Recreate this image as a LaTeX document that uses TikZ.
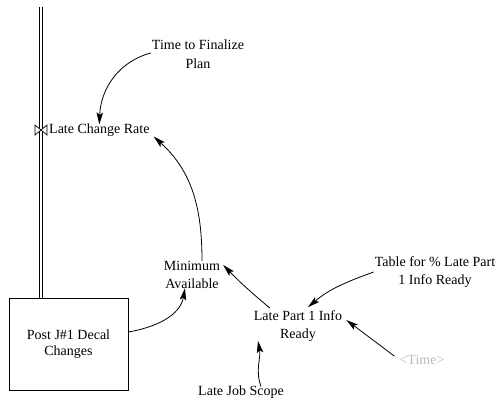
\documentclass[tikz,border=0pt]{standalone}
\usepackage{fontspec}
\setmainfont{Liberation Serif}
\usetikzlibrary{arrows.meta}
\begin{document}
\begin{tikzpicture}[x=1pt,y=-1pt,
  lbl/.style={font=\fontsize{14}{18.5}\selectfont, align=center, inner sep=1pt},
  link/.style={draw, line width=0.8pt, -{Stealth[length=12pt,width=6.5pt,inset=2.5pt]}},
  pipe/.style={draw, double, double distance=2.5pt, line width=0.7pt},
  stockbox/.style={draw, line width=0.8pt, minimum width=119pt, minimum height=92pt, font=\fontsize{14}{16.5}\selectfont, align=center}
]
\useasboundingbox (0,0) rectangle (497,400);
% stock
\node[stockbox] (box) at (68.5,344) {Post J\#1 Decal\\Changes};
\coordinate (ptop) at (41,7);
\coordinate (valve) at (41,130);
\draw[pipe] (ptop) -- (box.north -| ptop);
\draw[line width=0.7pt, fill=white] ([shift={(-6,-5)}]valve) -- ([shift={(6,5)}]valve) -- ([shift={(6,-5)}]valve) -- ([shift={(-6,5)}]valve) -- cycle;
% labels
\node[lbl, anchor=west] (lcr) at (48,130) {Late Change Rate};
\node[lbl] (ttf) at (198,54) {Time to Finalize\\Plan};
\node[lbl] (ma) at (192,275) {Minimum\\Available};
\node[lbl] (lp) at (298,326) {Late Part 1 Info\\Ready};
\node[lbl] (tab) at (435,272) {Table for \% Late Part\\1 Info Ready};
\node[lbl, text=gray!55] (time) at (422,360) {<Time>};
\node[lbl] (ljs) at (241,392) {Late Job Scope};
% links
\draw[link] ([yshift=1]ttf.west) to[out=195,in=88] ([yshift=-2]lcr.north);
\draw[link] ([xshift=10,yshift=-1]ma.north) to[out=90,in=-42] ([xshift=3,yshift=1]lcr.south east);
\draw[link] ([yshift=12]box.east) to[out=10,in=-100] ([xshift=-7,yshift=2]ma.south);
\draw[link] ([xshift=-28,yshift=1]lp.north) to[bend left=3] ([xshift=2,yshift=10]ma.east);
\draw[link] (tab.west) to[out=200,in=40] ([xshift=10,yshift=2]lp.north);
\draw[link] ([xshift=-4,yshift=-2]time.north west) -- ([xshift=3,yshift=6]lp.east);
\draw[link] ([xshift=20,yshift=-2]ljs.north) to[out=110,in=-80] ([xshift=-40,yshift=2]lp.south);
\end{tikzpicture}
\end{document}
